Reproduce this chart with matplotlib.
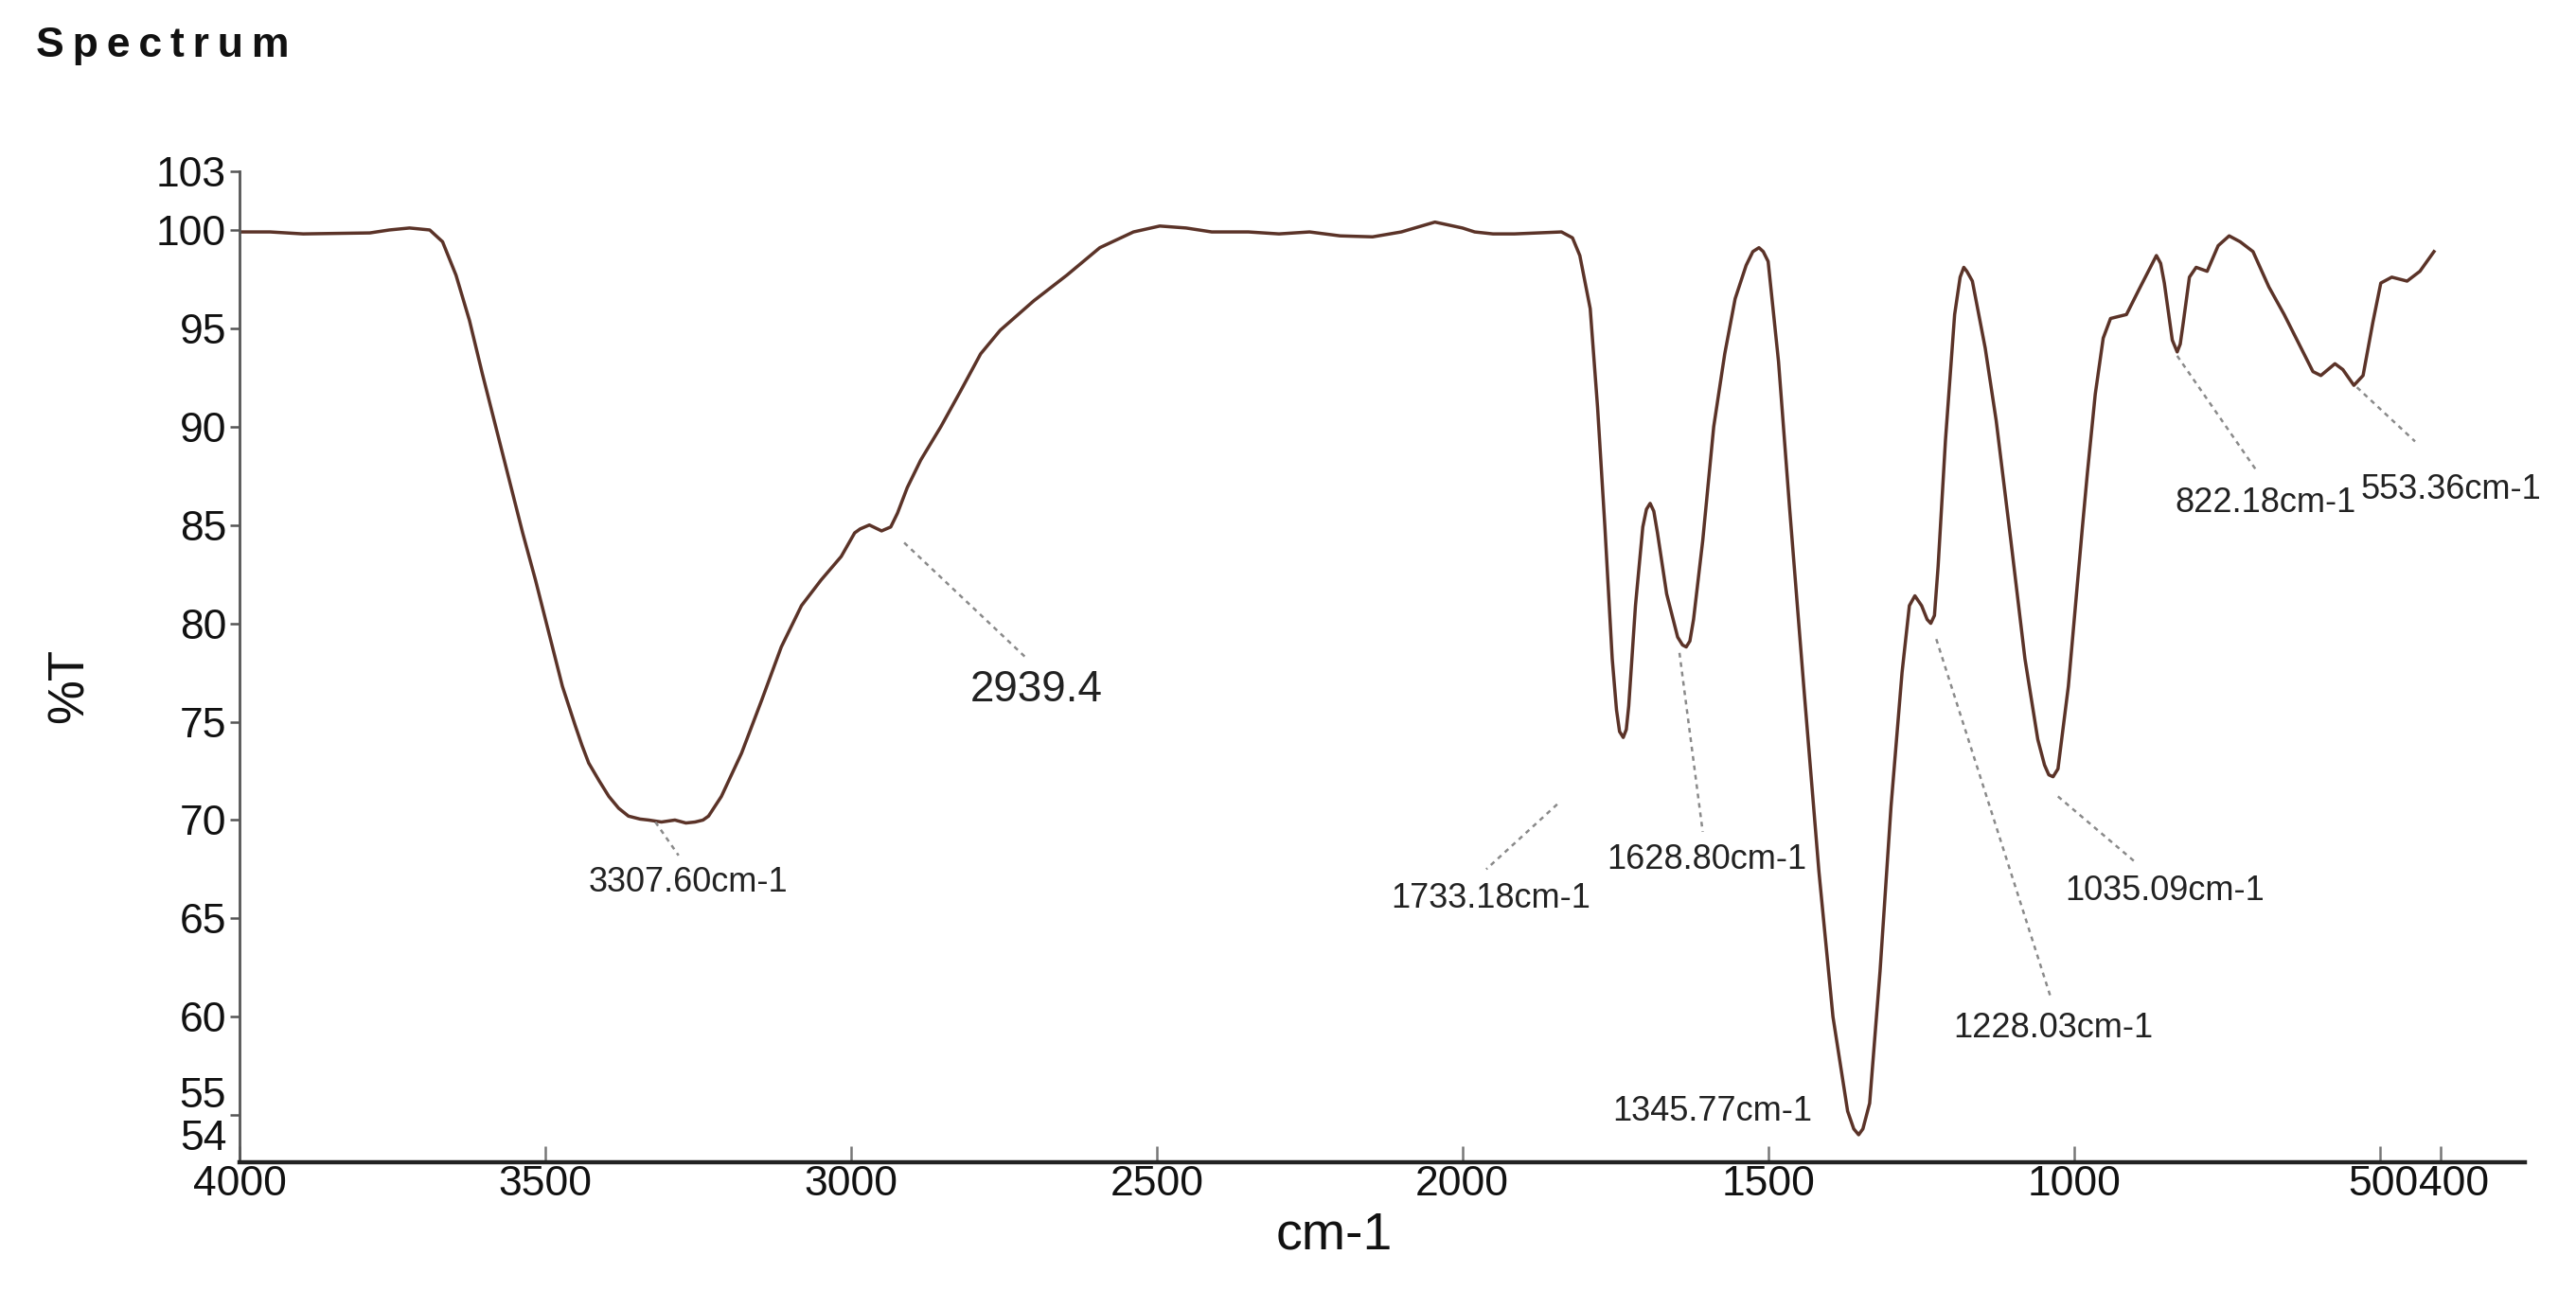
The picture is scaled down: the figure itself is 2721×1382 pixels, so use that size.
import matplotlib
matplotlib.use("Agg")
import matplotlib.pyplot as plt
from matplotlib.transforms import ScaledTranslation

plt.rcParams['font.family'] = ['Liberation Sans', 'DejaVu Sans']

# 読み取ったスペクトル (cm-1, %T)
wavenumber = [4000, 3950, 3896, 3787, 3755, 3722, 3689, 3668, 3646, 3624,
              3603, 3581, 3559, 3537, 3516, 3494, 3472, 3451, 3440, 3429,
              3412, 3396, 3380, 3364, 3345, 3331, 3310, 3288, 3270, 3255,
              3242, 3233, 3212, 3179, 3146, 3114, 3081,
              3049, 3016, 2994, 2985, 2970, 2950, 2935, 2924, 2908, 2886,
              2853, 2821, 2788, 2756, 2701, 2647, 2593, 2538, 2495, 2452,
              2410, 2350, 2300, 2250, 2200, 2147, 2100, 2045, 2000, 1980,
              1950, 1915, 1838, 1820, 1808, 1791, 1779, 1767, 1755, 1748,
              1743, 1737, 1732, 1728, 1717, 1705, 1699, 1693, 1687, 1681,
              1666, 1648, 1640, 1634, 1628, 1622, 1607,
              1589, 1571, 1554, 1536, 1525, 1515, 1508, 1500, 1483, 1465,
              1441, 1417, 1394, 1370, 1360, 1352, 1345, 1334, 1317, 1299,
              1281, 1269, 1260, 1249, 1240, 1234, 1228, 1222, 1210, 1195,
              1186, 1180, 1175, 1166, 1145, 1127, 1103, 1080,
              1059, 1048, 1041, 1034, 1026, 1009, 986, 978, 965, 952,
              940, 914, 893, 870, 865, 858, 852, 839, 831, 826, 821, 811,
              800, 782, 764, 746, 728, 707, 681, 656, 630, 609,
              596, 573, 560, 542, 527, 511, 498, 480, 455, 434, 411]
transmittance = [99.9, 99.9, 99.8, 99.85, 100.0, 100.1, 100.0, 99.4, 97.7, 95.4,
                 92.7, 90.0, 87.3, 84.6, 82.2, 79.5, 76.8, 74.8, 73.8, 72.9,
                 72.0, 71.2, 70.6, 70.2, 70.05, 70.0, 69.9, 70.0, 69.85, 69.9,
                 70.0, 70.2, 71.2, 73.4, 76.1, 78.8, 80.9,
                 82.2, 83.4, 84.6, 84.8, 85.0, 84.7, 84.9, 85.6, 86.9, 88.3,
                 90.0, 91.8, 93.7, 94.9, 96.4, 97.7, 99.1, 99.9, 100.2, 100.1,
                 99.9, 99.9, 99.8, 99.9, 99.7, 99.65, 99.9, 100.4, 100.1, 99.9,
                 99.8, 99.8, 99.9, 99.6, 98.7, 96.0, 91.0, 84.9, 78.2, 75.6,
                 74.5, 74.2, 74.6, 75.8, 80.9, 84.9, 85.8, 86.1, 85.7, 84.6,
                 81.5, 79.3, 78.9, 78.8, 79.1, 80.2, 84.2,
                 90.0, 93.7, 96.5, 98.2, 98.9, 99.1, 98.9, 98.4, 93.3, 85.9,
                 76.5, 67.4, 60.0, 55.2, 54.3, 54.0, 54.3, 55.6, 62.3, 70.7,
                 77.5, 80.9, 81.4, 80.9, 80.2, 80.0, 80.4, 82.9, 89.3, 95.7,
                 97.6, 98.1, 97.9, 97.4, 94.0, 90.3, 84.2, 78.2,
                 74.1, 72.8, 72.3, 72.2, 72.6, 76.8, 84.9, 87.6, 91.65, 94.5,
                 95.5, 95.7, 97.0, 98.4, 98.7, 98.3, 97.3, 94.4, 93.8, 94.2, 95.3, 97.6,
                 98.1, 97.9, 99.2, 99.7, 99.4, 98.9, 97.1, 95.7, 94.1, 92.8,
                 92.6, 93.2, 92.9, 92.1, 92.6, 95.3, 97.3, 97.6, 97.4, 97.9, 98.9]

# ピークラベル
peak_labels = ['3307.60cm-1', '2939.4', '1733.18cm-1', '1628.80cm-1',
               '1345.77cm-1', '1228.03cm-1', '1035.09cm-1', '822.18cm-1',
               '553.36cm-1']

x_ticks = [4000, 3500, 3000, 2500, 2000, 1500, 1000, 500, 400]
y_ticks = [103, 100, 95, 90, 85, 80, 75, 70, 65, 60, 55, 54]

# レイアウト: ラベル位置と引き出し線 (データ座標)
label_pos = [(3266, 66.8), (2696, 76.6), (1954, 66.0), (1601, 68.0),
             (1592, 55.2), (1034, 59.4), (851, 66.4), (686, 86.1),
             (384, 86.8)]
label_size = [13, 16.5, 13, 13, 13, 13, 13, 13, 13]
leaders = [((3320, 69.9), (3282, 68.2)),
           ((2913, 84.1), (2712, 78.2)),
           ((1845, 70.8), (1961, 67.5)),
           ((1645, 78.5), (1607, 69.4)),
           None,
           ((1225, 79.2), (1038, 61.0)),
           ((1026, 71.2), (901, 67.9)),
           ((831, 93.6), (702, 87.8)),
           ((537, 92.0), (442, 89.25))]

fig = plt.figure(figsize=(13.605, 6.91), dpi=200)
ax = fig.add_axes([0.0930, 0.1114, 0.887, 0.7579])

ax.plot(wavenumber, transmittance, color='#5b3328', linewidth=1.25)

for text, (lx, ly), fs, seg in zip(peak_labels, label_pos, label_size, leaders):
    ax.text(lx, ly, text, fontsize=fs, ha='center', va='center', color='#222222')
    if seg is not None:
        ax.plot([seg[0][0], seg[1][0]], [seg[0][1], seg[1][1]],
                color='#8a8a8a', linewidth=0.9, linestyle=(0, (2, 2)))

ax.set_xlim(4000, 263)
ax.set_ylim(52.6, 103)
ax.set_xticks(x_ticks)
ax.set_yticks(y_ticks)
ax.set_xticklabels([str(v) for v in x_ticks])
ax.set_yticklabels([str(v) for v in y_ticks])

ax.spines['top'].set_visible(False)
ax.spines['right'].set_visible(False)
ax.spines['left'].set_color('#555555')
ax.spines['left'].set_linewidth(1.0)
ax.spines['bottom'].set_color('#222222')
ax.spines['bottom'].set_linewidth(1.6)

ax.tick_params(axis='y', direction='out', length=3.5, width=0.9, pad=1.5,
               labelsize=16, colors='#555555', labelcolor='#111111')
ax.tick_params(axis='x', direction='in', length=6, width=0.9, pad=1,
               labelsize=16, colors='#777777', labelcolor='#111111')

# 54 は目盛り線なし、55 のラベルは少し上へ
yt = ax.yaxis.get_major_ticks()
yt[-1].tick1line.set_visible(False)
lbl55 = ax.get_yticklabels()[-2]
lbl55.set_transform(lbl55.get_transform() +
                    ScaledTranslation(0, 0.12, fig.dpi_scale_trans))

# 500 と 400 のラベルが重ならないように少しずらす
xl = ax.get_xticklabels()
xl[-2].set_transform(xl[-2].get_transform() +
                     ScaledTranslation(0.02, 0, fig.dpi_scale_trans))
xl[-1].set_transform(xl[-1].get_transform() +
                     ScaledTranslation(0.07, 0, fig.dpi_scale_trans))

fig.text(0.014, 0.965, '\u2009'.join('Spectrum'), fontsize=16,
         fontweight='bold', ha='left', va='center', color='#111111')
fig.text(0.027, 0.476, '%T', fontsize=19, rotation=90, ha='center',
         va='center', color='#111111')
fig.text(0.518, 0.055, 'cm-1', fontsize=20, ha='center', va='center',
         color='#111111')

fig.savefig('out.png', dpi=200)
